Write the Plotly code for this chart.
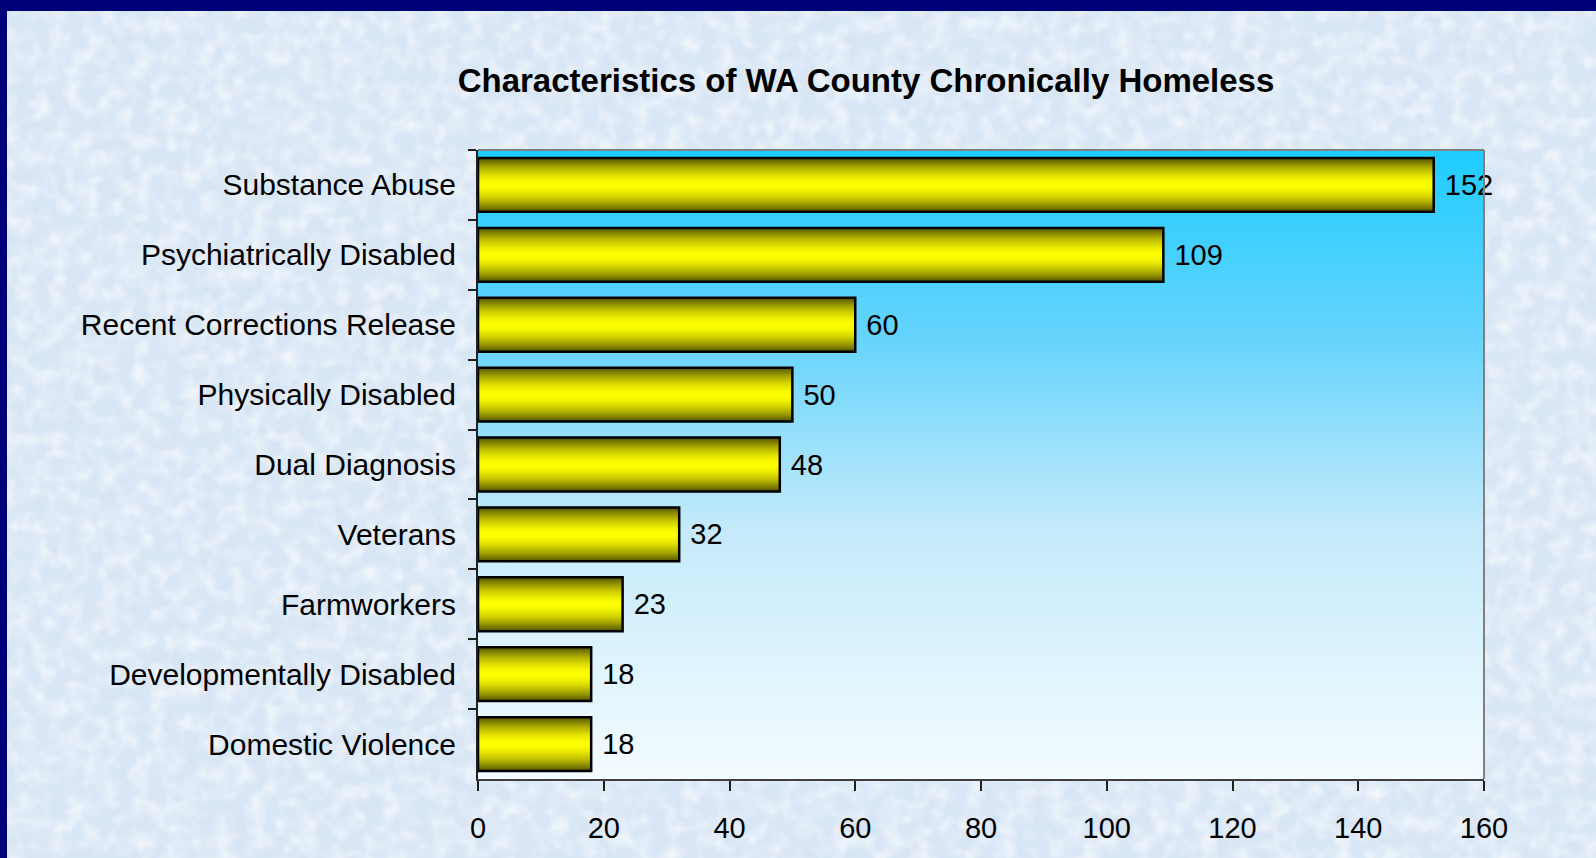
import base64
import plotly.graph_objects as go

categories = ["Substance Abuse", "Psychiatrically Disabled", "Recent Corrections Release",
              "Physically Disabled", "Dual Diagnosis", "Veterans", "Farmworkers",
              "Developmentally Disabled", "Domestic Violence"]
values = [152, 109, 60, 50, 48, 32, 23, 18, 18]
x_ticks = [0, 20, 40, 60, 80, 100, 120, 140, 160]
title_text = "Characteristics of WA County Chronically Homeless"

W, H = 1596, 858
L, R, T, B = 478, 112, 150, 79
PW, PH = W - L - R, H - T - B
FONT = "Liberation Sans, Arial, sans-serif"

def px_x(x):
    return (x - L) / PW

def px_y(y):
    return (H - B - y) / PH

def svg_uri(svg):
    return "data:image/svg+xml;base64," + base64.b64encode(svg.encode()).decode()

bg_svg = f"""<svg xmlns='http://www.w3.org/2000/svg' width='{W}' height='{H}'>
<filter id='n1' x='0' y='0' width='100%' height='100%'><feTurbulence type='fractalNoise' baseFrequency='0.045' numOctaves='2' seed='4'/>
<feColorMatrix type='matrix' values='0 0 0 0 0.68  0 0 0 0 0.77  0 0 0 0 0.88  1.2 0 0 0 -0.5'/></filter>
<filter id='n2' x='0' y='0' width='100%' height='100%'><feTurbulence type='fractalNoise' baseFrequency='0.06' numOctaves='2' seed='9'/>
<feColorMatrix type='matrix' values='0 0 0 0 1  0 0 0 0 1  0 0 0 0 1  0 1.3 0 0 -0.5'/></filter>
<rect width='100%' height='100%' fill='#D8E6F6'/>
<rect width='100%' height='100%' filter='url(#n1)'/>
<rect width='100%' height='100%' filter='url(#n2)'/>
</svg>"""

grad_svg = """<svg xmlns='http://www.w3.org/2000/svg' width='100' height='100' preserveAspectRatio='none'>
<defs><linearGradient id='g' x1='0' y1='0' x2='0' y2='1'>
<stop offset='0' stop-color='#1ECCFF'/><stop offset='0.3' stop-color='#66D4FC'/>
<stop offset='0.6' stop-color='#C4EAFB'/><stop offset='1' stop-color='#F4FCFF'/></linearGradient></defs>
<rect width='100' height='100' fill='url(#g)'/></svg>"""

fig = go.Figure()

bar_w = 0.77
n_layers = 22
dark = (88, 88, 0)
bright = (255, 255, 0)
for k in range(n_layers):
    t = 1 - k / n_layers
    f = t ** 1.7
    col = tuple(round(bright[i] + (dark[i] - bright[i]) * f) for i in range(3))
    w = bar_w * t
    fig.add_trace(go.Bar(
        y=categories, x=values, orientation="h", width=w,
        marker=dict(color=f"rgb{col}", line=dict(width=0)),
        hoverinfo="skip", showlegend=False,
    ))

fig.add_trace(go.Bar(
    y=categories, x=values, orientation="h", width=bar_w,
    marker=dict(color="rgba(0,0,0,0)", line=dict(color="#000000", width=2.5)),
    text=["\u00a0" + str(v) for v in values], textposition="outside",
    textfont=dict(family=FONT, size=29, color="#000000"),
    cliponaxis=False, showlegend=False,
))

fig.update_layout(
    width=W, height=H,
    margin=dict(l=L, r=R, t=T, b=B),
    barmode="overlay",
    paper_bgcolor="#D9E6F5",
    plot_bgcolor="rgba(0,0,0,0)",
    title=dict(text=f"<b>{title_text}</b>", x=px_x(866), xref="paper", xanchor="center",
               y=1 - 80 / H, yanchor="middle",
               font=dict(family=FONT, size=33, color="#000000")),
    xaxis=dict(range=[0, 160], tickvals=x_ticks, showgrid=False, zeroline=False,
               showline=True, linecolor="#404040", linewidth=2,
               ticks="outside", ticklen=10, tickwidth=1.5, tickcolor="#202020",
               ticklabelstandoff=12,
               tickfont=dict(family=FONT, size=29, color="#000000")),
    yaxis=dict(autorange="reversed", showgrid=False, zeroline=False,
               showline=True, linecolor="#202020", linewidth=2,
               ticks="outside", ticklen=8, tickwidth=1.5, tickcolor="#202020", tickson="boundaries",
               ticklabelstandoff=14,
               tickfont=dict(family=FONT, size=30, color="#000000")),
    images=[
        dict(source=svg_uri(bg_svg), xref="paper", yref="paper", x=px_x(0), y=px_y(0),
             sizex=W / PW, sizey=H / PH, sizing="stretch", xanchor="left", yanchor="top", layer="below"),
        dict(source=svg_uri(grad_svg), xref="paper", yref="paper", x=0, y=1,
             sizex=1, sizey=1, sizing="stretch", xanchor="left", yanchor="top", layer="below"),
    ],
    shapes=[
        dict(type="rect", xref="paper", yref="paper", x0=px_x(0), x1=px_x(W), y0=px_y(0), y1=px_y(11),
             fillcolor="#000078", line=dict(width=0), layer="above"),
        dict(type="rect", xref="paper", yref="paper", x0=px_x(0), x1=px_x(7), y0=px_y(0), y1=px_y(H),
             fillcolor="#000078", line=dict(width=0), layer="above"),
        dict(type="line", xref="paper", yref="paper", x0=0, x1=1, y0=1, y1=1,
             line=dict(color="#808080", width=2), layer="above"),
        dict(type="line", xref="paper", yref="paper", x0=1, x1=1, y0=0, y1=1,
             line=dict(color="#808080", width=2), layer="above"),
    ],
)

fig.write_html("out.html", config={"displayModeBar": False},
               post_script="document.body.style.margin='0';document.body.style.overflow='hidden';")
